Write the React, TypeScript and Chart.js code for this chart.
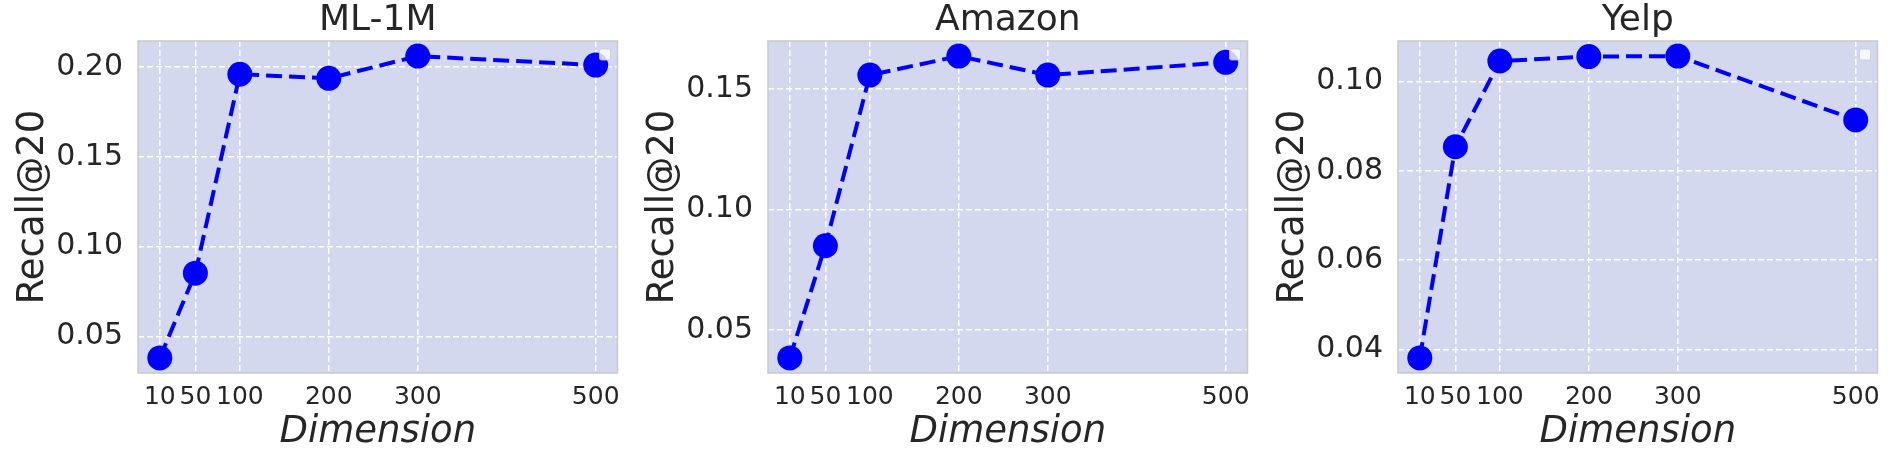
import React, { useEffect, useRef } from "react";
import { Chart, registerables } from "chart.js";

Chart.register(...registerables);

// ---- data ----
const dimensions = [10, 50, 100, 200, 300, 500];
const ml1mRecall = [0.038, 0.0852, 0.196, 0.1937, 0.2061, 0.2011];
const amazonRecall = [0.0383, 0.0849, 0.1558, 0.1637, 0.1558, 0.1611];
const yelpRecall = [0.0381, 0.0854, 0.1046, 0.1056, 0.1057, 0.0914];
const ml1mTicks = [0.05, 0.1, 0.15, 0.2];
const amazonTicks = [0.05, 0.1, 0.15];
const yelpTicks = [0.04, 0.06, 0.08, 0.1];
const panelTitles = ["ML-1M", "Amazon", "Yelp"];
const xAxisLabel = "Dimension";
const yAxisLabel = "Recall@20";

// ---- styles ----
const FONT = "'DejaVu Sans', sans-serif";
const TEXT = "#262626";
const PLOT_BG = "rgb(211,216,238)";
const LINE_BLUE = "#0000ff";

const framePlugin = {
  id: "frame",
  beforeDraw(chart: any) {
    const { ctx, chartArea: a } = chart;
    ctx.save();
    ctx.fillStyle = PLOT_BG;
    ctx.fillRect(a.left, a.top, a.right - a.left, a.bottom - a.top);
    ctx.restore();
  },
  afterDraw(chart: any, _args: any, opts: any) {
    const { ctx, chartArea: a } = chart;
    ctx.save();
    ctx.strokeStyle = "#c9c9c9";
    ctx.lineWidth = 1.5;
    ctx.strokeRect(a.left, a.top, a.right - a.left, a.bottom - a.top);
    // empty legend box (top-right)
    const x = a.right - 18;
    const y = a.top + 8;
    ctx.beginPath();
    if ((ctx as any).roundRect) (ctx as any).roundRect(x, y, 11, 11, 2);
    else ctx.rect(x, y, 11, 11);
    ctx.fillStyle = "rgba(255,255,255,0.8)";
    ctx.fill();
    ctx.strokeStyle = "rgba(204,204,204,0.8)";
    ctx.lineWidth = 1;
    ctx.stroke();
    // panel title centred over the plot area
    if (opts && opts.text) {
      ctx.fillStyle = TEXT;
      ctx.font = `normal 36px ${FONT}`;
      ctx.textAlign = "center";
      ctx.textBaseline = "alphabetic";
      ctx.fillText(opts.text, (a.left + a.right) / 2, a.top - 11);
    }
    ctx.restore();
  },
};

function Panel(props: { title: string; values: number[]; yTicks: number[]; left: number; rightPad: number }) {
  const ref = useRef<HTMLCanvasElement | null>(null);
  useEffect(() => {
    if (!ref.current) return;
    const lo = Math.min(...props.values);
    const hi = Math.max(...props.values);
    const ym = (hi - lo) * 0.05;
    const xlo = dimensions[0];
    const xhi = dimensions[dimensions.length - 1];
    const xm = (xhi - xlo) * 0.05;
    const chart = new Chart(ref.current, {
      type: "line",
      data: {
        datasets: [
          {
            data: dimensions.map((d, i) => ({ x: d, y: props.values[i] })),
            borderColor: LINE_BLUE,
            backgroundColor: LINE_BLUE,
            borderWidth: 4,
            borderDash: [16, 7],
            pointRadius: 12.5,
            pointHoverRadius: 12.5,
            pointBackgroundColor: LINE_BLUE,
            pointBorderWidth: 0,
            fill: false,
            tension: 0,
            clip: false as any,
          },
        ],
      },
      options: {
        animation: false,
        responsive: false,
        events: [],
        layout: { padding: { left: 0, right: props.rightPad, top: 41, bottom: 0 } },
        plugins: {
          legend: { display: false },
          tooltip: { enabled: false },
          title: { display: false },
          frame: { text: props.title },
        },
        scales: {
          x: {
            type: "linear",
            min: xlo - xm,
            max: xhi + xm,
            afterBuildTicks: (s: any) => {
              s.ticks = dimensions.map((v) => ({ value: v }));
            },
            afterFit: (s: any) => {
              s.height = 87;
            },
            ticks: {
              color: TEXT,
              font: { family: FONT, size: 25 },
              padding: 9,
              maxRotation: 0,
              autoSkip: false,
              callback: (v: any) => String(v),
            },
            grid: { color: "#ffffff", lineWidth: 1.5, drawTicks: false },
            border: { display: false, dash: [6, 3] },
            title: {
              display: true,
              text: xAxisLabel,
              color: TEXT,
              font: { family: FONT, size: 37, style: "italic", lineHeight: 1 },
              padding: { top: 0, bottom: 9 },
            },
          },
          y: {
            type: "linear",
            min: lo - ym,
            max: hi + ym,
            afterBuildTicks: (s: any) => {
              s.ticks = props.yTicks.map((v) => ({ value: v }));
            },
            afterFit: (s: any) => {
              s.width = 138;
            },
            ticks: {
              color: TEXT,
              font: { family: FONT, size: 30 },
              padding: 15,
              autoSkip: false,
              callback: (v: any) => Number(v).toFixed(2),
            },
            grid: { color: "#ffffff", lineWidth: 1.5, drawTicks: false },
            border: { display: false, dash: [6, 3] },
            title: {
              display: true,
              text: yAxisLabel,
              color: TEXT,
              font: { family: FONT, size: 37, lineHeight: 1 },
              padding: { top: 15, bottom: 0 },
            },
          },
        },
      } as any,
      plugins: [framePlugin],
    });
    return () => chart.destroy();
  }, []);
  return (
    <canvas
      ref={ref}
      width={630}
      height={460}
      style={{ position: "absolute", left: props.left, top: 0, width: 630, height: 460 }}
    />
  );
}

export default function App() {
  return (
    <div style={{ position: "absolute", left: 0, top: 0, width: 1898, height: 460, background: "#ffffff", overflow: "hidden" }}>
      <Panel title={panelTitles[0]} values={ml1mRecall} yTicks={ml1mTicks} left={0} rightPad={8} />
      <Panel title={panelTitles[1]} values={amazonRecall} yTicks={amazonTicks} left={630} rightPad={8} />
      <Panel title={panelTitles[2]} values={yelpRecall} yTicks={yelpTicks} left={1260} rightPad={7} />
    </div>
  );
}
